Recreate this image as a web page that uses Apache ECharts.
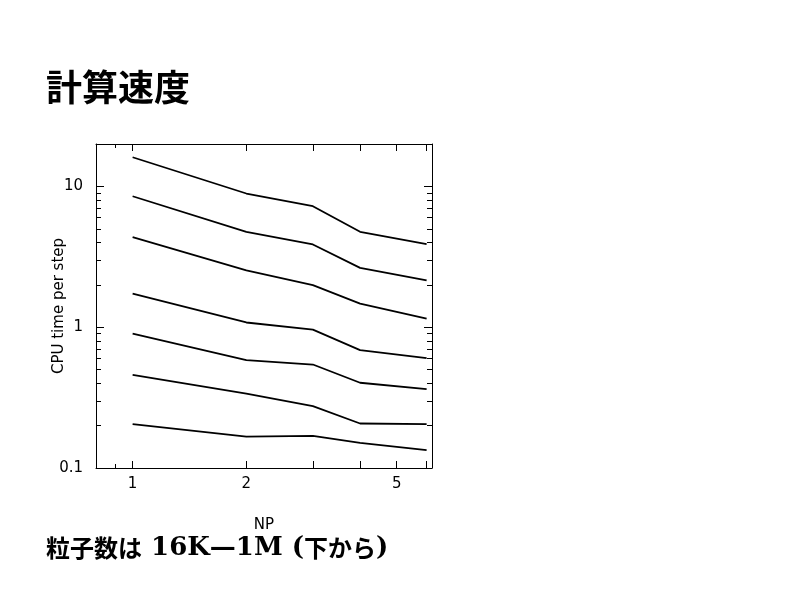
<!DOCTYPE html>
<html><head><meta charset="utf-8">
<script src="https://cdn.jsdelivr.net/npm/echarts@6/dist/echarts.min.js"></script>
<style>html,body{margin:0;padding:0;background:#fff}#c{width:800px;height:600px}</style>
</head><body><div id="c"></div>
<script>
// NP (number of processors)
const np = [1, 2, 3, 4, 6];
// CPU time per step, from bottom (16K particles) to top (1M particles)
const s16K  = [0.205, 0.167, 0.169, 0.151, 0.134];
const s32K  = [0.459, 0.338, 0.275, 0.207, 0.205];
const s64K  = [0.90, 0.583, 0.543, 0.403, 0.363];
const s128K = [1.73, 1.08, 0.96, 0.687, 0.602];
const s256K = [4.36, 2.53, 1.99, 1.47, 1.15];
const s512K = [8.51, 4.76, 3.87, 2.64, 2.15];
const s1M   = [16.1, 8.9, 7.23, 4.76, 3.89];
const seriesNames = ['16K', '32K', '64K', '128K', '256K', '512K', '1M'];
const seriesValues = [s16K, s32K, s64K, s128K, s256K, s512K, s1M];
// tick labels / tick positions
const xTickLabels = [1, 2, 5];
const xMajorTicks = [1, 2, 3, 4, 5, 6];
const xMinorTicks = [0.9];
const yTickLabels = [0.1, 1, 10];
const yMajorTicks = [0.1, 1, 10];
const yMinorTicks = [0.2, 0.3, 0.4, 0.5, 0.6, 0.7, 0.8, 0.9, 2, 3, 4, 5, 6, 7, 8, 9, 20];

const chart = echarts.init(document.getElementById('c'), null, {renderer: 'canvas'});
const font = 'DejaVu Sans';
const lineStyle = {color: '#000', width: 1};

function xAx(pos, ticks, len, showLabel, showLine) {
  return {
    type: 'log', logBase: 10, min: 0.8, max: 6.2, position: pos,
    axisLine: {show: showLine, onZero: false, lineStyle: lineStyle},
    axisTick: {show: true, inside: true, length: len, customValues: ticks, lineStyle: lineStyle},
    axisLabel: {show: showLabel, customValues: xTickLabels, color: '#000', fontFamily: font, fontSize: 15, margin: 9},
    splitLine: {show: false}, minorTick: {show: false}
  };
}
function yAx(pos, ticks, len, showLabel, showLine) {
  return {
    type: 'log', logBase: 10, min: 0.1, max: 20, position: pos,
    axisLine: {show: showLine, onZero: false, lineStyle: lineStyle},
    axisTick: {show: true, inside: true, length: len, customValues: ticks, lineStyle: lineStyle},
    axisLabel: {show: showLabel, customValues: yTickLabels, color: '#000', fontFamily: font, fontSize: 15, margin: 13},
    splitLine: {show: false}, minorTick: {show: false}
  };
}

const xAxes = [xAx('bottom', xMajorTicks, 7, true, true), xAx('top', xMajorTicks, 7, false, true),
               xAx('bottom', xMinorTicks, 4, false, false), xAx('top', xMinorTicks, 4, false, false)];
xAxes[0].name = 'NP';
xAxes[0].nameLocation = 'middle';
xAxes[0].nameGap = 50;
xAxes[0].nameMoveOverlap = false;
xAxes[0].nameTextStyle = {color: '#000', fontFamily: font, fontSize: 15};
const yAxes = [yAx('left', yMajorTicks, 8, true, true), yAx('right', yMajorTicks, 8, false, true),
               yAx('left', yMinorTicks, 5, false, false), yAx('right', yMinorTicks, 5, false, false)];
yAxes[0].name = 'CPU time per step';
yAxes[0].nameLocation = 'middle';
yAxes[0].nameGap = 29;
yAxes[0].nameMoveOverlap = false;
yAxes[0].nameTextStyle = {color: '#000', fontFamily: font, fontSize: 15};

chart.setOption({
  animation: false,
  backgroundColor: '#fff',
  grid: {left: 96, top: 144, width: 336, height: 324, containLabel: false},
  xAxis: xAxes,
  yAxis: yAxes,
  series: seriesNames.map((n, i) => ({
    name: n, type: 'line', xAxisIndex: 0, yAxisIndex: 0,
    showSymbol: false, symbol: 'none',
    lineStyle: {color: '#000', width: 1.8},
    data: np.map((x, j) => [x, seriesValues[i][j]])
  })),
  graphic: [
    {type: 'text', left: 46, top: 69,
     style: {text: '計算速度', fill: '#000', font: 'bold 36px "Noto Sans CJK JP"'}},
    {type: 'text', left: 46, top: 535,
     style: {
       text: '{a|粒子数は}{b| 16K—1M (}{a|下から}{b|)}',
       rich: {
         a: {fontFamily: 'Noto Sans CJK JP', fontSize: 24, fontWeight: 'bold', fill: '#000', color: '#000'},
         b: {fontFamily: 'DejaVu Serif', fontSize: 26, fontWeight: 'bold', fill: '#000', color: '#000'}
       }
     }}
  ]
});
</script></body></html>
